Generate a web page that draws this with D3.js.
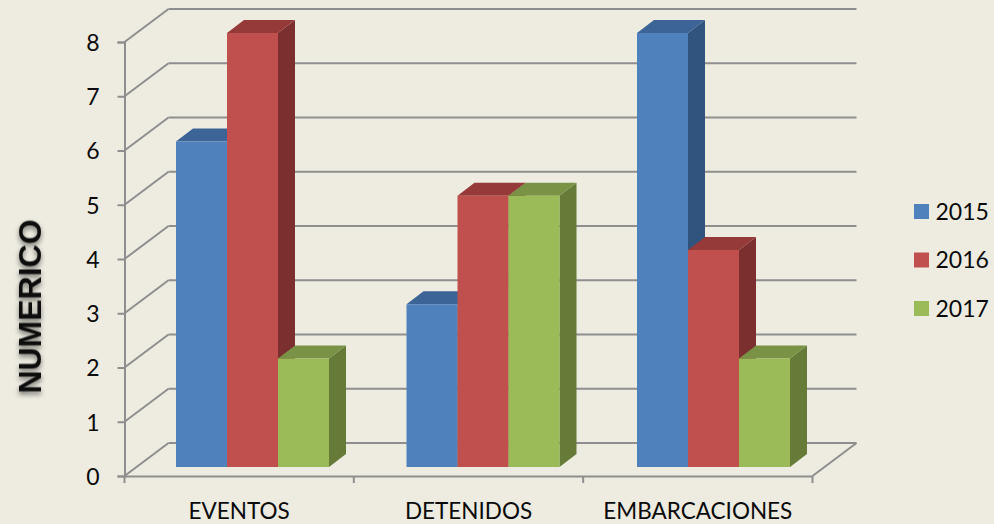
<!DOCTYPE html>
<html>
<head>
<meta charset="utf-8">
<script src="https://cdn.jsdelivr.net/npm/d3@7"></script>
<style>
  html, body { margin: 0; padding: 0; background: #eeece1; }
  svg { display: block; }
  text { font-family: Lato, "Open Sans", sans-serif; fill: #0a0a0a; }
</style>
</head>
<body>
<div id="chart"></div>
<script>
const categories = ["EVENTOS", "DETENIDOS", "EMBARCACIONES"];
const years = ["2015", "2016", "2017"];
const values2015 = [6, 3, 8];
const values2016 = [8, 5, 4];
const values2017 = [2, 5, 2];
const yTicks = [0, 1, 2, 3, 4, 5, 6, 7, 8];

const width = 994, height = 524;
const seriesValues = [values2015, values2016, values2017];
const colors = [
  { front: "#4f81bd", top: "#3d6496", side: "#31547f" },
  { front: "#c0504d", top: "#953a38", side: "#7b2f2e" },
  { front: "#9bbb59", top: "#7a9245", side: "#657b37" }
];

// wall depth and bar depth of the fake 3d
const wallDx = 44, wallDy = -33;
const barDx = 17, barDy = -13;
const floorDy = -9;
const gridColor = "#8e8e8e";

const svg = d3.select("#chart").append("svg")
  .attr("width", width)
  .attr("height", height);

const defs = svg.append("defs");
defs.append("filter").attr("id", "titleShadow")
  .attr("x", "-30%").attr("y", "-30%").attr("width", "160%").attr("height", "160%")
  .append("feDropShadow")
  .attr("dx", -3).attr("dy", 0).attr("stdDeviation", 2.4)
  .attr("flood-color", "#000").attr("flood-opacity", 0.5);

const y = d3.scaleLinear().domain([0, 8]).range([476, 42]);
const x = d3.scaleBand().domain(categories).range([124.5, 812.5]);
// the bar groups sit a little off the axis bands
const xGroup = d3.scalePoint().domain(categories).range([176, 637]);
const xInner = d3.scaleBand().domain(years).range([0, 153]);

// left wall diagonals + back wall lines
const grid = svg.append("g").attr("fill", "none").attr("stroke", gridColor).attr("stroke-width", 2);
grid.selectAll(".diag").data(yTicks).enter().append("line")
  .attr("class", "diag")
  .attr("x1", 124.5).attr("y1", d => y(d))
  .attr("x2", 124.5 + wallDx).attr("y2", d => y(d) + wallDy);
grid.selectAll(".back").data(yTicks).enter().append("line")
  .attr("class", "back")
  .attr("x1", 124.5 + wallDx).attr("y1", d => y(d) + wallDy)
  .attr("x2", 812.5 + wallDx).attr("y2", d => y(d) + wallDy);
grid.append("line")
  .attr("x1", 812.5).attr("y1", y(0))
  .attr("x2", 812.5 + wallDx).attr("y2", y(0) + wallDy);

// axes
const yAxis = d3.axisLeft(y).tickValues(yTicks).tickSize(7).tickPadding(18).tickFormat(d3.format("d"));
const gy = svg.append("g").attr("transform", "translate(124.5,0)").call(yAxis);
gy.selectAll("text").style("font-size", "23px").attr("dy", "0.36em");

const xAxis = d3.axisBottom(x).tickSize(0).tickPadding(27);
const gx = svg.append("g").attr("transform", `translate(0,${y(0)})`).call(xAxis);
gx.selectAll("text").style("font-size", "22.5px");
gx.selectAll(".boundary").data(d3.range(categories.length + 1)).enter().append("line")
  .attr("class", "boundary")
  .attr("x1", d => x.range()[0] + d * x.step())
  .attr("x2", d => x.range()[0] + d * x.step())
  .attr("y1", 0).attr("y2", 7);
svg.selectAll(".domain, .boundary, .tick line")
  .attr("stroke", gridColor).attr("stroke-width", 2);

// bars: series by series so each front covers the previous side
categories.forEach((cat, ci) => {
  const g = svg.append("g").attr("transform", `translate(${xGroup(cat)},0)`);
  years.forEach((yr, si) => {
    const v = seriesValues[si][ci];
    const x0 = xInner(yr), w = xInner.bandwidth();
    const top = y(v) + floorDy, base = y(0) + floorDy;
    const c = colors[si];
    g.append("polygon").attr("fill", c.side)
      .attr("points", [[x0 + w, top], [x0 + w + barDx, top + barDy], [x0 + w + barDx, base + barDy], [x0 + w, base]].join(" "));
    g.append("polygon").attr("fill", c.top)
      .attr("points", [[x0, top], [x0 + barDx, top + barDy], [x0 + w + barDx, top + barDy], [x0 + w, top]].join(" "));
    g.append("rect").attr("fill", c.front)
      .attr("x", x0).attr("y", top).attr("width", w).attr("height", base - top);
  });
});

// axis title
svg.append("text")
  .attr("transform", "translate(41,306.5) rotate(-90)")
  .attr("text-anchor", "middle")
  .attr("filter", "url(#titleShadow)")
  .style("font-family", "'Liberation Sans', Arial, sans-serif")
  .style("font-weight", "bold")
  .style("font-size", "32px")
  .text("NUMERICO");

// legend
const legendY = d3.scalePoint().domain(years).range([211.5, 308.5]);
const legend = svg.append("g");
legend.selectAll("rect").data(years).enter().append("rect")
  .attr("x", 914).attr("y", d => legendY(d) - 7.5)
  .attr("width", 15).attr("height", 15)
  .attr("fill", (d, i) => colors[i].front);
legend.selectAll("text").data(years).enter().append("text")
  .attr("x", 935.5).attr("y", d => legendY(d))
  .attr("dy", "0.36em")
  .style("font-size", "23px")
  .text(d => d);
</script>
</body>
</html>
